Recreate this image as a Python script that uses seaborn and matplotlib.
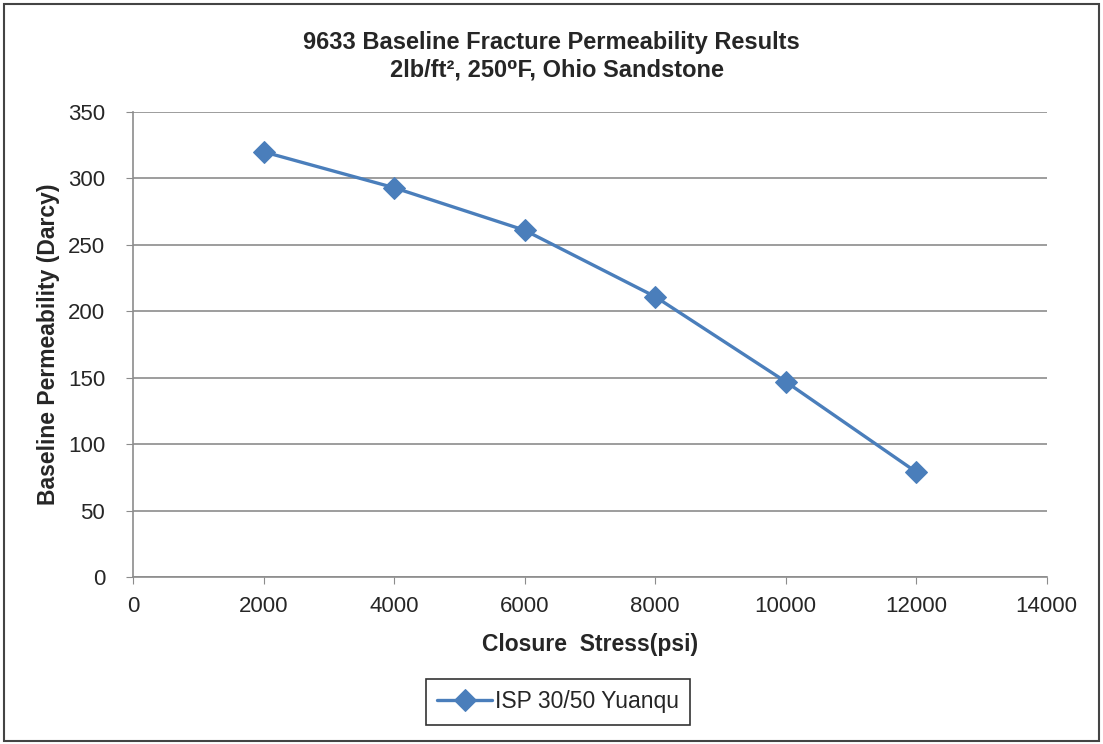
import pandas as pd
import seaborn as sns
import matplotlib.pyplot as plt
from matplotlib.patches import Rectangle

# Data
stress = [2000, 4000, 6000, 8000, 10000, 12000]
permeability = [320, 293, 261, 211, 147, 79]
series_name = 'ISP 30/50 Yuanqu'

df = pd.DataFrame({'Closure Stress(psi)': stress,
                   'Baseline Permeability (Darcy)': permeability,
                   'Series': series_name})

sns.set_style('white')
plt.rcParams['font.family'] = ['Liberation Sans', 'DejaVu Sans']

fig = plt.figure(figsize=(11.03, 7.44), dpi=100)
ax = fig.add_axes([0.1206, 0.2245, 0.8284, 0.625])

blue = '#4A7EBB'
sns.lineplot(x='Closure Stress(psi)', y='Baseline Permeability (Darcy)', data=df,
             hue='Series', palette=[blue], marker='D', markersize=11,
             markeredgecolor=blue, linewidth=2.4, ax=ax)

ax.set_xlim(0, 14000)
ax.set_ylim(0, 350)
ax.set_xticks(range(0, 14001, 2000))
ax.set_yticks(range(0, 351, 50))
ax.yaxis.grid(True, color='#8c8c8c', linewidth=1.2)
ax.xaxis.grid(False)
for s in ['top', 'right']:
    ax.spines[s].set_visible(False)
for s in ['left', 'bottom']:
    ax.spines[s].set_color('#8c8c8c')
    ax.spines[s].set_linewidth(1.2)
ax.tick_params(axis='y', which='major', left=True, length=5, color='#8c8c8c', labelsize=16, pad=15)
ax.tick_params(axis='x', which='major', bottom=True, length=5, color='#8c8c8c', labelsize=16, pad=9)

ax.set_xlabel('Closure  Stress(psi)', fontsize=16.5, fontweight='bold')
ax.set_ylabel('Baseline Permeability (Darcy)', fontsize=16.5, fontweight='bold')
ax.xaxis.set_label_coords(0.5, -0.12)
ax.yaxis.set_label_coords(-0.08, 0.5)

fig.text(0.5, 0.9435, '9633 Baseline Fracture Permeability Results',
         ha='center', va='center', fontsize=17, fontweight='bold')
fig.text(0.505, 0.906, '2lb/ft\u00b2, 250\u2070F, Ohio Sandstone',
         ha='center', va='center', fontsize=17, fontweight='bold')

leg = ax.legend(loc='center', bbox_to_anchor=(0.506, 0.0565), bbox_transform=fig.transFigure,
                fontsize=16.5, frameon=True, fancybox=False, handlelength=2.4,
                handletextpad=0.1, borderpad=0.5, borderaxespad=0,
                edgecolor='black')
leg.get_frame().set_linewidth(1.2)
leg.set_title(None)

# outer chart border
fig.patches.append(Rectangle((0.004, 0.004), 0.992, 0.99, transform=fig.transFigure,
                             fill=False, edgecolor='#444444', linewidth=1.5))

plt.savefig('out.png', dpi=100)
